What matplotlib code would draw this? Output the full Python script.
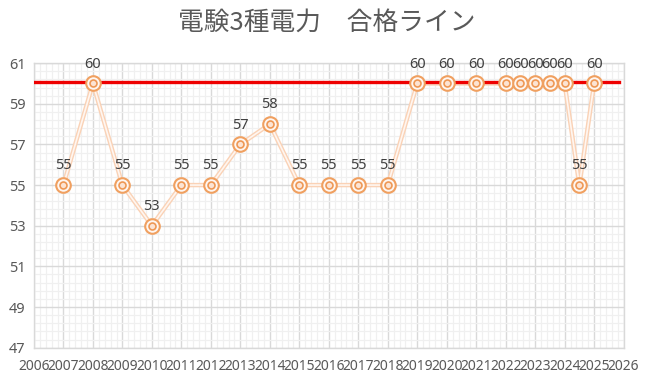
import matplotlib
matplotlib.use("Agg")
import matplotlib.pyplot as plt
import numpy as np

plt.rcParams["font.family"] = ["Noto Sans", "Noto Sans CJK JP", "DejaVu Sans"]

TITLE = "電験3種電力　合格ライン"
years = [2007, 2008, 2009, 2010, 2011, 2012, 2013, 2014, 2015, 2016, 2017, 2018,
         2019, 2020, 2021, 2022, 2022.5, 2023, 2023.5, 2024, 2024.5, 2025]
scores = [55, 60, 55, 53, 55, 55, 57, 58, 55, 55, 55, 55,
          60, 60, 60, 60, 60, 60, 60, 60, 55, 60]
pass_line = 60.05
pass_span = [2006, 2025.85]
x_ticks = list(range(2006, 2027))
y_ticks = [47, 49, 51, 53, 55, 57, 59, 61]

fig = plt.figure(figsize=(6.53, 3.85), dpi=100)
ax = fig.add_axes([0.052, 0.097, 0.903, 0.739])

ax.set_xlim(2006, 2026)
ax.set_ylim(47, 61)
ax.set_xticks(x_ticks)
ax.set_xticks(np.arange(2006, 2026.01, 0.2), minor=True)
ax.set_yticks(y_ticks)
ax.set_yticks(np.arange(47, 61.01, 0.4), minor=True)
ax.grid(which="major", color="#D9D9D9", linewidth=1.0)
ax.grid(which="minor", color="#F0F0F0", linewidth=0.9)
ax.set_axisbelow(True)
for s in ax.spines.values():
    s.set_color("#D9D9D9")
    s.set_linewidth(1.0)
ax.tick_params(which="both", length=0)
ax.tick_params(axis="y", pad=6, labelsize=10.5, labelcolor="#595959")
ax.tick_params(axis="x", pad=8, labelsize=10, labelcolor="#595959")

ax.plot(years, scores, color="#FAD2B6", linewidth=3.2, zorder=3)
ax.plot(years, scores, color="#FFF6F0", linewidth=1.2, zorder=3)

ax.plot(pass_span, [pass_line, pass_line], color="#EE0000", linewidth=2.4, zorder=4)

ax.plot(years, scores, linestyle="none", marker="o", ms=10.5, mfc="#FFF7F2",
        mec="#F0A060", mew=1.5, zorder=5)
ax.plot(years, scores, linestyle="none", marker="o", ms=5, mfc="#FCE4D4",
        mec="#EE9855", mew=1.2, zorder=6)

for x, y in zip(years, scores):
    ax.annotate(str(y), (x, y), xytext=(0, 8.5), textcoords="offset points",
                ha="center", va="bottom", fontsize=10.5, color="#404040", zorder=7)

fig.text(0.5, 0.94, TITLE, ha="center", va="center", fontsize=18.5, color="#595959",
         family=["Noto Sans CJK JP", "DejaVu Sans"])

fig.savefig("out.png", dpi=100)
